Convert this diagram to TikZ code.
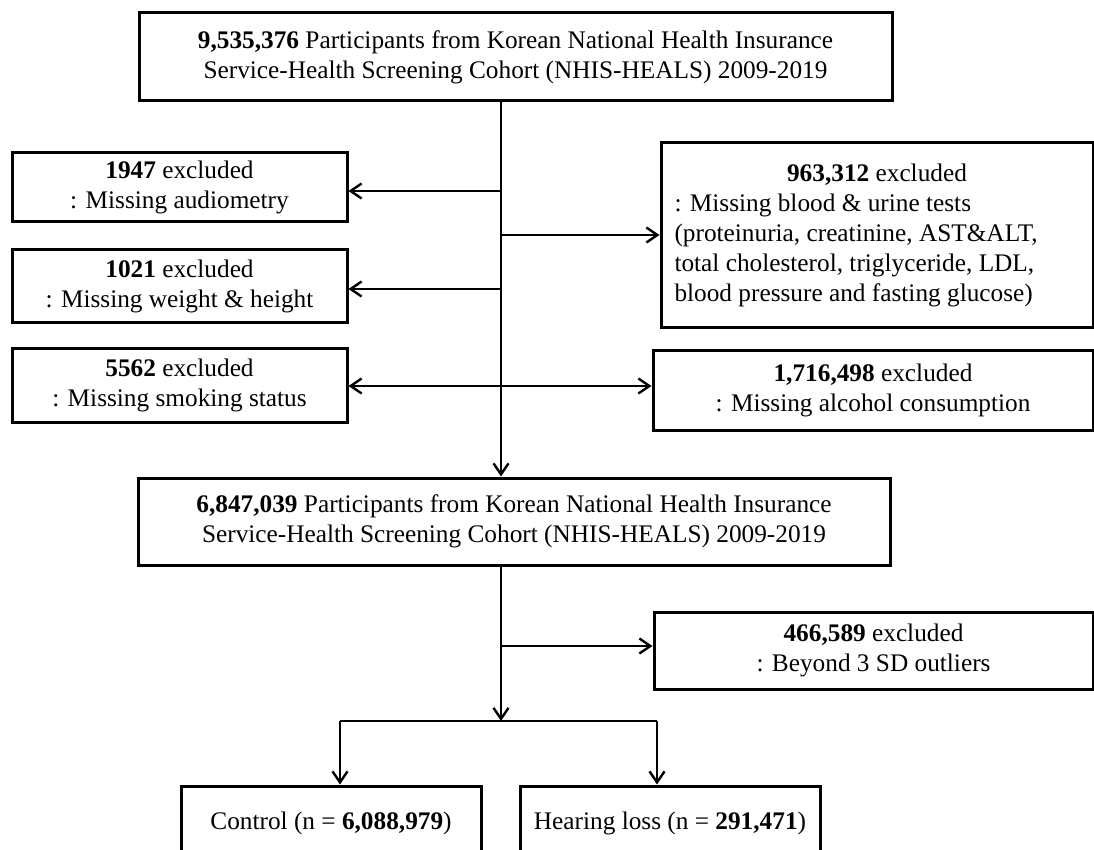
\documentclass[tikz,border=0pt]{standalone}
\usepackage{fontspec}
\setmainfont{Liberation Serif}
\usetikzlibrary{arrows.meta}

\begin{document}
\begin{tikzpicture}[x=1pt, y=1pt,
    >={Straight Barb[length=11pt, width=15pt]},
    box/.style={draw, line width=3pt, inner sep=0pt, align=center,
      font=\fontsize{25.3}{30}\selectfont},
    every path/.append style={line width=2.4pt}]
  \useasboundingbox (0,0) rectangle (1094,-850);

  \draw (515.5,-57) node[box, minimum width=753pt, minimum height=88pt] (top)
    {\textbf{9,535,376} Participants from Korean National Health Insurance\\
     Service-Health Screening Cohort (NHIS-HEALS) 2009-2019};

  \draw (179.5,-187.5) node[box, minimum width=335pt, minimum height=69pt] (ex1)
    {\textbf{1947} excluded\\: Missing audiometry};
  \draw (179.5,-286) node[box, minimum width=335pt, minimum height=72pt] (ex2)
    {\textbf{1021} excluded\\: Missing weight \& height};
  \draw (179.5,-385) node[box, minimum width=335pt, minimum height=74pt] (ex3)
    {\textbf{5562} excluded\\: Missing smoking status};

  \draw (877,-235) node[box, minimum width=432pt, minimum height=184pt,
      text width=405pt, align=flush left] (exA)
    {\makebox[\hsize][c]{\textbf{963,312} excluded}\\
     : Missing blood \& urine tests\\
     (proteinuria, creatinine, AST\&ALT,\\
     total cholesterol, triglyceride, LDL,\\
     blood pressure and fasting glucose)};
  \draw (873,-390) node[box, minimum width=440pt, minimum height=80pt] (exB)
    {\textbf{1,716,498} excluded\\: Missing alcohol consumption};

  \draw (514,-521.5) node[box, minimum width=752pt, minimum height=87pt] (mid)
    {\textbf{6,847,039} Participants from Korean National Health Insurance\\
     Service-Health Screening Cohort (NHIS-HEALS) 2009-2019};

  \draw (873.5,-650.5) node[box, minimum width=439pt, minimum height=77pt] (exC)
    {\textbf{466,589} excluded\\: Beyond 3 SD outliers};

  \draw (331,-823) node[box, minimum width=300pt, minimum height=74pt] (ctrl)
    {Control (n = \textbf{6,088,979})};
  \draw (670,-823) node[box, minimum width=300pt, minimum height=74pt] (hl)
    {Hearing loss (n = \textbf{291,471})};

  % main line and exclusions
  \coordinate (spine) at (501,0);
  \draw[->] (top.south -| spine) -- (mid.north -| spine);

  \coordinate (b1) at (501,-191);
  \coordinate (b2) at (501,-235);
  \coordinate (b3) at (501,-289);
  \coordinate (b4) at (501,-386);
  \draw[->] (b1) -- (b1 -| ex1.east);
  \draw[->] (b2) -- (b2 -| exA.west);
  \draw[->] (b3) -- (b3 -| ex2.east);
  \draw[<->] (b4 -| ex3.east) -- (b4 -| exB.west);

  % outliers and groups
  \coordinate (b5) at (501,-646);
  \coordinate (split) at (501,-721);
  \coordinate (splitL) at (340,-721);
  \coordinate (splitR) at (657,-721);
  \draw[->] (mid.south -| spine) -- (split);
  \draw[->] (b5) -- (b5 -| exC.west);
  \draw (splitL) -- (splitR);
  \draw[->] (splitL) -- (splitL |- ctrl.north);
  \draw[->] (splitR) -- (splitR |- hl.north);
\end{tikzpicture}
\end{document}
